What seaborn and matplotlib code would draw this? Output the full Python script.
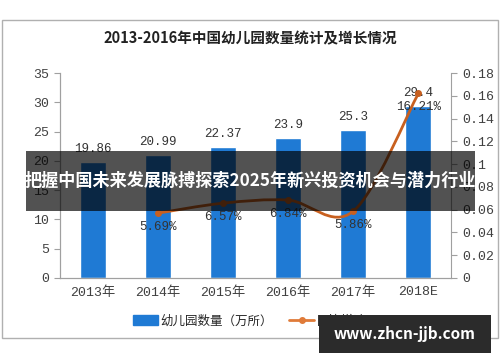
import pandas as pd
import seaborn as sns
import matplotlib.pyplot as plt
from matplotlib.patches import Rectangle, PathPatch
from matplotlib.path import Path

years = ['2013年', '2014年', '2015年', '2016年', '2017年', '2018E']
counts = [19.86, 20.99, 22.37, 23.9, 25.3, 29.4]
count_labels = ['19.86', '20.99', '22.37', '23.9', '25.3', '29.4']
growth = [None, 0.0569, 0.0657, 0.0684, 0.0586, 0.1621]
growth_labels = ['', '5.69%', '6.57%', '6.84%', '5.86%', '16.21%']
left_ticks = [0, 5, 10, 15, 20, 25, 30, 35]
right_ticks = [0, 0.02, 0.04, 0.06, 0.08, 0.1, 0.12, 0.14, 0.16, 0.18]
right_labels = ['0', '0.02', '0.04', '0.06', '0.08', '0.1', '0.12', '0.14', '0.16', '0.18']

sns.set_style('white')
plt.rcParams['font.family'] = ['Noto Sans CJK SC', 'DejaVu Sans']
num_font = ['Liberation Mono', 'Noto Sans CJK SC']

df = pd.DataFrame({'year': years, 'count': counts})

fig = plt.figure(figsize=(5, 3.62), dpi=100)
W, H = 500, 362

# outer frame
fig.patches.append(Rectangle((2 / W, 1 - 338 / H), 496 / W, 318 / H, transform=fig.transFigure,
                             fill=False, edgecolor='#b0b0b0', lw=1))
fig.text(0.5, 1 - 38 / H, '2013-2016年中国幼儿园数量统计及增长情况', ha='center', va='center',
         fontsize=10.5, fontweight='bold', color='#222222')

ax = fig.add_axes([60 / W, 1 - 278 / H, 391 / W, 205 / H])
sns.barplot(data=df, x='year', y='count', color='#1f7ad4', width=0.4, saturation=1, ax=ax)
ax.set_ylim(0, 35)
ax.set_xlim(-0.5, 5.5)
ax.set_yticks(left_ticks)
ax.set_xlabel('')
ax.set_ylabel('')
for i, v in enumerate(counts):
    ax.text(i, v + 1.2, count_labels[i], ha='center', va='bottom',
            fontsize=9, color='#333333', family=num_font)

ax2 = ax.twinx()
ax2.set_ylim(0, 0.18)
ax2.set_yticks(right_ticks)
ax2.set_yticklabels(right_labels)

# smooth line through the growth points
pts = [(i, g) for i, g in enumerate(growth) if g is not None]
verts = [pts[0]]
codes = [Path.MOVETO]
for k in range(len(pts) - 1):
    p0 = pts[max(k - 1, 0)]
    p1 = pts[k]
    p2 = pts[k + 1]
    p3 = pts[min(k + 2, len(pts) - 1)]
    c1 = (p1[0] + (p2[0] - p0[0]) / 6, p1[1] + (p2[1] - p0[1]) / 6)
    c2 = (p2[0] - (p3[0] - p1[0]) / 6, p2[1] - (p3[1] - p1[1]) / 6)
    verts += [c1, c2, p2]
    codes += [Path.CURVE4] * 3
ax2.add_patch(PathPatch(Path(verts, codes), fill=False, edgecolor='#c8601f', lw=2))
ax2.plot([p[0] for p in pts], [p[1] for p in pts], 'o', color='#c8601f', ms=4)
for i, g in enumerate(growth):
    if g is not None:
        ax2.text(i, g - 0.007, growth_labels[i], ha='center', va='top', fontsize=9,
                 color='#333333', family=num_font)

for a in (ax, ax2):
    for s in a.spines.values():
        s.set_color('#a0a0a0')
    a.spines['top'].set_visible(False)
    a.tick_params(colors='#a0a0a0', labelcolor='#404040', length=4, direction='out', labelsize=9.5)
ax.spines['right'].set_visible(False)
ax.set_xticks([0, 1, 2, 3, 4, 5])
ax.set_xticks([x - 0.5 for x in range(7)], minor=True)
ax.tick_params(axis='x', which='major', length=0, pad=6)
ax.tick_params(axis='x', which='minor', length=4, color='#a0a0a0')
ax.tick_params(axis='y', pad=4)
ax2.tick_params(axis='y', pad=4)
for t in ax.get_xticklabels() + ax.get_yticklabels() + ax2.get_yticklabels():
    t.set_family(num_font)

# legend
ax.legend(handles=[Rectangle((0, 0), 1, 1, color='#1f7ad4'),
                   plt.Line2D([0], [0], color='#e07b39', lw=2, marker='o', ms=4)],
          labels=['幼儿园数量（万所）', '同比增速%'], loc='center', ncol=2, frameon=False,
          bbox_to_anchor=(0.5, 1 - (321 - 73) / 205), fontsize=9,
          handlelength=2.0, handleheight=0.9, columnspacing=1.3, handletextpad=0.2)

# overlay banner
fig.patches.append(Rectangle((26 / W, 1 - 211 / H), 449 / W, 60 / H, transform=fig.transFigure,
                             facecolor='#000000', alpha=0.68, edgecolor='none', zorder=10))
fig.text(250 / W, 1 - 181 / H, '把握中国未来发展脉搏探索2025年新兴投资机会与潜力行业', ha='center',
         va='center', fontsize=12.3, fontweight='bold', color='white', zorder=11)

# watermark box
fig.patches.append(Rectangle((319 / W, 1 - 353 / H), 172 / W, 38 / H, transform=fig.transFigure,
                             facecolor='#2b2b2b', edgecolor='none', zorder=10))
fig.text(405 / W, 1 - 334 / H, 'www.zhcn-jjb.com', ha='center', va='center', fontsize=11,
         fontweight='bold', color='white', zorder=11)

fig.savefig('out.png', dpi=100)
